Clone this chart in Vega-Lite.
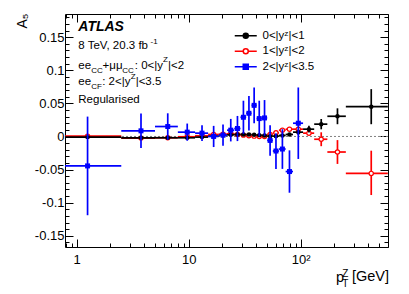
{
 "$schema": "https://vega.github.io/schema/vega-lite/v6.json",
 "width": 323,
 "height": 233,
 "autosize": {"type": "none"},
 "padding": {"left": 65, "top": 14, "right": 21, "bottom": 47},
 "background": "#ffffff",
 "config": {
  "view": {"stroke": "#000000", "strokeWidth": 1},
  "font": "Liberation Sans",
  "axis": {"grid": false, "domain": false, "tickColor": "#000000", "tickWidth": 1, "labelColor": "#000000", "labelFont": "Liberation Sans", "labelFontSize": 13, "labelOverlap": false, "titleColor": "#000000", "titleFont": "Liberation Sans", "titleFontWeight": "normal"},
  "legend": {"padding": 0, "labelFont": "Liberation Sans", "labelFontSize": 11.5, "labelColor": "#000000", "labelOffset": 11, "symbolSize": 25, "symbolStrokeWidth": 1.5, "rowPadding": 2.5, "titlePadding": 0}
 },
 "datasets": {
  "pts": [
   {"s": "0<|yᶻ|<1", "x": 1.25, "xlo": 0.001, "xhi": 2.5, "y": -0.001, "ylo": -0.003, "yhi": 0.001},
   {"s": "0<|yᶻ|<1", "x": 3.75, "xlo": 2.5, "xhi": 5, "y": -0.002, "ylo": -0.0035, "yhi": -0.0005},
   {"s": "0<|yᶻ|<1", "x": 6.5, "xlo": 5, "xhi": 8, "y": -0.002, "ylo": -0.0035, "yhi": -0.0005},
   {"s": "0<|yᶻ|<1", "x": 9.7, "xlo": 8, "xhi": 11.4, "y": -0.002, "ylo": -0.0035, "yhi": -0.0005},
   {"s": "0<|yᶻ|<1", "x": 13.15, "xlo": 11.4, "xhi": 14.9, "y": -0.001, "ylo": -0.0025, "yhi": 0.0005},
   {"s": "0<|yᶻ|<1", "x": 16.7, "xlo": 14.9, "xhi": 18.5, "y": 0.0005, "ylo": -0.001, "yhi": 0.002},
   {"s": "0<|yᶻ|<1", "x": 20.25, "xlo": 18.5, "xhi": 22, "y": 0.0015, "ylo": 0, "yhi": 0.003},
   {"s": "0<|yᶻ|<1", "x": 23.75, "xlo": 22, "xhi": 25.5, "y": 0.0025, "ylo": 0.001, "yhi": 0.004},
   {"s": "0<|yᶻ|<1", "x": 27.25, "xlo": 25.5, "xhi": 29, "y": 0.003, "ylo": 0.0015, "yhi": 0.0045},
   {"s": "0<|yᶻ|<1", "x": 30.8, "xlo": 29, "xhi": 32.6, "y": 0.003, "ylo": 0.0015, "yhi": 0.0045},
   {"s": "0<|yᶻ|<1", "x": 34.5, "xlo": 32.6, "xhi": 36.4, "y": 0.003, "ylo": 0.0015, "yhi": 0.0045},
   {"s": "0<|yᶻ|<1", "x": 38.4, "xlo": 36.4, "xhi": 40.4, "y": 0.0025, "ylo": 0.001, "yhi": 0.004},
   {"s": "0<|yᶻ|<1", "x": 42.65, "xlo": 40.4, "xhi": 44.9, "y": 0.002, "ylo": 0.0005, "yhi": 0.0035},
   {"s": "0<|yᶻ|<1", "x": 47.55, "xlo": 44.9, "xhi": 50.2, "y": 0.0015, "ylo": 0, "yhi": 0.003},
   {"s": "0<|yᶻ|<1", "x": 53.3, "xlo": 50.2, "xhi": 56.4, "y": 0.0005, "ylo": -0.001, "yhi": 0.002},
   {"s": "0<|yᶻ|<1", "x": 60.15, "xlo": 56.4, "xhi": 63.9, "y": 0.0005, "ylo": -0.0015, "yhi": 0.0025},
   {"s": "0<|yᶻ|<1", "x": 68.65, "xlo": 63.9, "xhi": 73.4, "y": 0.0015, "ylo": -0.0005, "yhi": 0.0035},
   {"s": "0<|yᶻ|<1", "x": 79.4, "xlo": 73.4, "xhi": 85.4, "y": 0.003, "ylo": 0.001, "yhi": 0.005},
   {"s": "0<|yᶻ|<1", "x": 95.2, "xlo": 85.4, "xhi": 105, "y": 0.0065, "ylo": 0.0025, "yhi": 0.0105},
   {"s": "0<|yᶻ|<1", "x": 118.5, "xlo": 105, "xhi": 132, "y": 0.011, "ylo": 0.006, "yhi": 0.016},
   {"s": "0<|yᶻ|<1", "x": 152.5, "xlo": 132, "xhi": 173, "y": 0.0186, "ylo": 0.0108, "yhi": 0.0264},
   {"s": "0<|yᶻ|<1", "x": 213, "xlo": 173, "xhi": 253, "y": 0.0305, "ylo": 0.0185, "yhi": 0.0425},
   {"s": "0<|yᶻ|<1", "x": 426.5, "xlo": 253, "xhi": 600, "y": 0.045, "ylo": 0.0185, "yhi": 0.0715},
   {"s": "1<|yᶻ|<2", "x": 1.25, "xlo": 0.001, "xhi": 2.5, "y": 0.0005, "ylo": -0.0015, "yhi": 0.0025},
   {"s": "1<|yᶻ|<2", "x": 3.75, "xlo": 2.5, "xhi": 5, "y": -0.0025, "ylo": -0.004, "yhi": -0.001},
   {"s": "1<|yᶻ|<2", "x": 6.5, "xlo": 5, "xhi": 8, "y": -0.002, "ylo": -0.0035, "yhi": -0.0005},
   {"s": "1<|yᶻ|<2", "x": 9.7, "xlo": 8, "xhi": 11.4, "y": -0.0005, "ylo": -0.002, "yhi": 0.001},
   {"s": "1<|yᶻ|<2", "x": 13.15, "xlo": 11.4, "xhi": 14.9, "y": 0.001, "ylo": -0.0005, "yhi": 0.0025},
   {"s": "1<|yᶻ|<2", "x": 16.7, "xlo": 14.9, "xhi": 18.5, "y": 0.003, "ylo": 0.0015, "yhi": 0.0045},
   {"s": "1<|yᶻ|<2", "x": 20.25, "xlo": 18.5, "xhi": 22, "y": 0.0035, "ylo": 0.002, "yhi": 0.005},
   {"s": "1<|yᶻ|<2", "x": 23.75, "xlo": 22, "xhi": 25.5, "y": 0.004, "ylo": 0.0025, "yhi": 0.0055},
   {"s": "1<|yᶻ|<2", "x": 27.25, "xlo": 25.5, "xhi": 29, "y": 0.003, "ylo": 0.0015, "yhi": 0.0045},
   {"s": "1<|yᶻ|<2", "x": 30.8, "xlo": 29, "xhi": 32.6, "y": 0.002, "ylo": 0.0005, "yhi": 0.0035},
   {"s": "1<|yᶻ|<2", "x": 34.5, "xlo": 32.6, "xhi": 36.4, "y": 0.001, "ylo": -0.0005, "yhi": 0.0025},
   {"s": "1<|yᶻ|<2", "x": 38.4, "xlo": 36.4, "xhi": 40.4, "y": 0.0005, "ylo": -0.001, "yhi": 0.002},
   {"s": "1<|yᶻ|<2", "x": 42.65, "xlo": 40.4, "xhi": 44.9, "y": 0.0, "ylo": -0.0015, "yhi": 0.0015},
   {"s": "1<|yᶻ|<2", "x": 47.55, "xlo": 44.9, "xhi": 50.2, "y": 0.0, "ylo": -0.0015, "yhi": 0.0015},
   {"s": "1<|yᶻ|<2", "x": 53.3, "xlo": 50.2, "xhi": 56.4, "y": 0.003, "ylo": 0.001, "yhi": 0.005},
   {"s": "1<|yᶻ|<2", "x": 60.15, "xlo": 56.4, "xhi": 63.9, "y": 0.0055, "ylo": 0.0035, "yhi": 0.0075},
   {"s": "1<|yᶻ|<2", "x": 68.65, "xlo": 63.9, "xhi": 73.4, "y": 0.0095, "ylo": 0.007, "yhi": 0.012},
   {"s": "1<|yᶻ|<2", "x": 79.4, "xlo": 73.4, "xhi": 85.4, "y": 0.011, "ylo": 0.0085, "yhi": 0.0135},
   {"s": "1<|yᶻ|<2", "x": 95.2, "xlo": 85.4, "xhi": 105, "y": 0.011, "ylo": 0.008, "yhi": 0.014},
   {"s": "1<|yᶻ|<2", "x": 118.5, "xlo": 105, "xhi": 132, "y": 0.005, "ylo": 0.001, "yhi": 0.009},
   {"s": "1<|yᶻ|<2", "x": 152.5, "xlo": 132, "xhi": 173, "y": -0.0042, "ylo": -0.0147, "yhi": 0.0063},
   {"s": "1<|yᶻ|<2", "x": 213, "xlo": 173, "xhi": 253, "y": -0.0235, "ylo": -0.0415, "yhi": -0.0055},
   {"s": "1<|yᶻ|<2", "x": 426.5, "xlo": 253, "xhi": 600, "y": -0.0558, "ylo": -0.0885, "yhi": -0.0215},
   {"s": "2<|yᶻ|<3.5", "x": 1.25, "xlo": 0.001, "xhi": 2.5, "y": -0.0445, "ylo": -0.119, "yhi": 0.03},
   {"s": "2<|yᶻ|<3.5", "x": 3.75, "xlo": 2.5, "xhi": 5, "y": 0.0085, "ylo": -0.0175, "yhi": 0.0345},
   {"s": "2<|yᶻ|<3.5", "x": 6.5, "xlo": 5, "xhi": 8, "y": 0.015, "ylo": -0.005, "yhi": 0.035},
   {"s": "2<|yᶻ|<3.5", "x": 9.7, "xlo": 8, "xhi": 11.4, "y": 0.0065, "ylo": -0.0065, "yhi": 0.0195},
   {"s": "2<|yᶻ|<3.5", "x": 13.15, "xlo": 11.4, "xhi": 14.9, "y": 0.005, "ylo": -0.007, "yhi": 0.017},
   {"s": "2<|yᶻ|<3.5", "x": 16.7, "xlo": 14.9, "xhi": 18.5, "y": 0.0, "ylo": -0.016, "yhi": 0.016},
   {"s": "2<|yᶻ|<3.5", "x": 20.25, "xlo": 18.5, "xhi": 22, "y": 0.002, "ylo": -0.014, "yhi": 0.018},
   {"s": "2<|yᶻ|<3.5", "x": 23.75, "xlo": 22, "xhi": 25.5, "y": 0.0095, "ylo": -0.0075, "yhi": 0.0265},
   {"s": "2<|yᶻ|<3.5", "x": 27.25, "xlo": 25.5, "xhi": 29, "y": 0.012, "ylo": -0.007, "yhi": 0.031},
   {"s": "2<|yᶻ|<3.5", "x": 30.8, "xlo": 29, "xhi": 32.6, "y": 0.029, "ylo": 0.004, "yhi": 0.054},
   {"s": "2<|yᶻ|<3.5", "x": 34.5, "xlo": 32.6, "xhi": 36.4, "y": 0.035, "ylo": 0.009, "yhi": 0.061},
   {"s": "2<|yᶻ|<3.5", "x": 38.4, "xlo": 36.4, "xhi": 40.4, "y": 0.047, "ylo": 0.02, "yhi": 0.074},
   {"s": "2<|yᶻ|<3.5", "x": 42.65, "xlo": 40.4, "xhi": 44.9, "y": 0.027, "ylo": 0.0, "yhi": 0.054},
   {"s": "2<|yᶻ|<3.5", "x": 47.55, "xlo": 44.9, "xhi": 50.2, "y": 0.028, "ylo": 0.001, "yhi": 0.055},
   {"s": "2<|yᶻ|<3.5", "x": 53.3, "xlo": 50.2, "xhi": 56.4, "y": -0.006, "ylo": -0.029, "yhi": 0.017},
   {"s": "2<|yᶻ|<3.5", "x": 60.15, "xlo": 56.4, "xhi": 63.9, "y": -0.022, "ylo": -0.049, "yhi": 0.005},
   {"s": "2<|yᶻ|<3.5", "x": 68.65, "xlo": 63.9, "xhi": 73.4, "y": -0.019, "ylo": -0.049, "yhi": 0.011},
   {"s": "2<|yᶻ|<3.5", "x": 79.4, "xlo": 73.4, "xhi": 85.4, "y": -0.053, "ylo": -0.085, "yhi": -0.021},
   {"s": "2<|yᶻ|<3.5", "x": 95.2, "xlo": 85.4, "xhi": 105, "y": 0.02, "ylo": -0.034, "yhi": 0.074}
  ],
  "ann": [
   {"t": "ATLAS", "x": 1.0335, "y": 0.1649, "k": "atlas"},
   {"t": "8 TeV, 20.3 fb", "x": 1.0335, "y": 0.1371, "k": "main"},
   {"t": "-1", "x": 4.56, "y": 0.1434, "k": "small"},
   {"t": "ee", "x": 1.0335, "y": 0.1069, "k": "main"},
   {"t": "CC", "x": 1.345, "y": 0.0993, "k": "small"},
   {"t": "+μμ", "x": 1.703, "y": 0.1069, "k": "main"},
   {"t": "CC", "x": 2.55, "y": 0.0993, "k": "small"},
   {"t": ": 0<|y", "x": 3.3, "y": 0.1069, "k": "main"},
   {"t": "Z", "x": 5.9, "y": 0.1148, "k": "small"},
   {"t": "|<2", "x": 6.55, "y": 0.1069, "k": "main"},
   {"t": "ee", "x": 1.0335, "y": 0.0827, "k": "main"},
   {"t": "CF", "x": 1.345, "y": 0.0747, "k": "small"},
   {"t": ": 2<|y", "x": 1.69, "y": 0.0827, "k": "main"},
   {"t": "Z", "x": 3.03, "y": 0.0898, "k": "small"},
   {"t": "|<3.5", "x": 3.36, "y": 0.0827, "k": "main"},
   {"t": "Regularised", "x": 1.0335, "y": 0.0551, "k": "main"},
   {"t": "p", "x": 207, "y": -0.2143, "k": "xt"},
   {"t": "Z", "x": 234.5, "y": -0.2075, "k": "xs"},
   {"t": "T", "x": 234.5, "y": -0.2235, "k": "xs"},
   {"t": "[GeV]", "x": 287, "y": -0.2119, "k": "xt"}
  ]
 },
 "layer": [
  {
   "data": {"values": [{"z": 0}]},
   "mark": {"type": "rule", "strokeDash": [2, 2], "color": "#808080", "strokeWidth": 1},
   "encoding": {
    "y": {"field": "z", "type": "quantitative", "scale": {"domain": [-0.167, 0.185], "nice": false, "zero": false},
     "axis": {"orient": "right", "title": null, "labels": false,
      "values": [-0.16,-0.15,-0.14,-0.13,-0.12,-0.11,-0.1,-0.09,-0.08,-0.07,-0.06,-0.05,-0.04,-0.03,-0.02,-0.01,0,0.01,0.02,0.03,0.04,0.05,0.06,0.07,0.08,0.09,0.1,0.11,0.12,0.13,0.14,0.15,0.16,0.17,0.18],
      "tickSize": {"condition": {"test": "abs(datum.value*20 - round(datum.value*20)) < 1e-6", "value": -8}, "value": -4}}}
   }
  },
  {
   "data": {"name": "pts"},
   "transform": [{"filter": {"field": "s", "equal": "1<|yᶻ|<2"}}],
   "mark": {"type": "rule", "strokeWidth": 1.7, "color": "#ff0000", "clip": true},
   "encoding": {
    "x": {"field": "xlo", "type": "quantitative", "scale": {"type": "log", "domain": [0.786, 602], "nice": false},
     "axis": {"orient": "bottom", "title": null,
      "values": [0.8,0.9,1,2,3,4,5,6,7,8,9,10,20,30,40,50,60,70,80,90,100,200,300,400,500,600],
      "tickSize": {"condition": {"test": "abs(log(datum.value)/LN10 - round(log(datum.value)/LN10)) < 1e-6", "value": -8}, "value": -4},
      "labelPadding": 14,
      "labelExpr": "datum.value == 1 ? '1' : datum.value == 10 ? '10' : datum.value == 100 ? '10²' : ''"}},
    "x2": {"field": "xhi"},
    "y": {"field": "y", "type": "quantitative",
     "axis": {"orient": "left", "title": "A₅", "titleFontSize": 14, "titleAngle": 270, "titleAlign": "right", "titleBaseline": "middle", "titleX": -43, "titleY": -1,
      "values": [-0.16,-0.15,-0.14,-0.13,-0.12,-0.11,-0.1,-0.09,-0.08,-0.07,-0.06,-0.05,-0.04,-0.03,-0.02,-0.01,0,0.01,0.02,0.03,0.04,0.05,0.06,0.07,0.08,0.09,0.1,0.11,0.12,0.13,0.14,0.15,0.16,0.17,0.18],
      "tickSize": {"condition": {"test": "abs(datum.value*20 - round(datum.value*20)) < 1e-6", "value": -8}, "value": -4},
      "labelPadding": 9,
      "labelExpr": "abs(datum.value*20 - round(datum.value*20)) < 1e-6 ? replace(format(datum.value, '~g'), '−', '-') : ''"}}
   }
  },
  {
   "data": {"name": "pts"},
   "transform": [{"filter": {"field": "s", "equal": "1<|yᶻ|<2"}}],
   "mark": {"type": "rule", "strokeWidth": 1.7, "color": "#ff0000", "clip": true},
   "encoding": {
    "x": {"field": "x", "type": "quantitative",
     "axis": {"orient": "top", "title": null, "labels": false,
      "values": [0.8,0.9,1,2,3,4,5,6,7,8,9,10,20,30,40,50,60,70,80,90,100,200,300,400,500,600],
      "tickSize": {"condition": {"test": "abs(log(datum.value)/LN10 - round(log(datum.value)/LN10)) < 1e-6", "value": -8}, "value": -4}}},
    "y": {"field": "ylo", "type": "quantitative", "axis": null},
    "y2": {"field": "yhi"}
   }
  },
  {
   "data": {"name": "pts"},
   "transform": [{"filter": {"field": "s", "equal": "1<|yᶻ|<2"}}],
   "mark": {"type": "point", "shape": "circle", "filled": true, "fill": "#ffffff", "stroke": "#ff0000", "strokeWidth": 1.2, "size": 18, "opacity": 1, "clip": true},
   "encoding": {"x": {"field": "x", "type": "quantitative", "axis": null}, "y": {"field": "y", "type": "quantitative", "axis": null}}
  },
  {
   "data": {"name": "pts"},
   "transform": [{"filter": {"field": "s", "equal": "0<|yᶻ|<1"}}],
   "mark": {"type": "rule", "strokeWidth": 1.7, "color": "#000000", "clip": true},
   "encoding": {"x": {"field": "xlo", "type": "quantitative", "axis": null}, "x2": {"field": "xhi"}, "y": {"field": "y", "type": "quantitative", "axis": null}}
  },
  {
   "data": {"name": "pts"},
   "transform": [{"filter": {"field": "s", "equal": "0<|yᶻ|<1"}}],
   "mark": {"type": "rule", "strokeWidth": 1.7, "color": "#000000", "clip": true},
   "encoding": {"x": {"field": "x", "type": "quantitative", "axis": null}, "y": {"field": "ylo", "type": "quantitative", "axis": null}, "y2": {"field": "yhi"}}
  },
  {
   "data": {"name": "pts"},
   "transform": [{"filter": {"field": "s", "equal": "0<|yᶻ|<1"}}],
   "mark": {"type": "point", "shape": "circle", "filled": true, "color": "#000000", "size": 20, "opacity": 1, "clip": true},
   "encoding": {"x": {"field": "x", "type": "quantitative", "axis": null}, "y": {"field": "y", "type": "quantitative", "axis": null}}
  },
  {
   "data": {"name": "pts"},
   "transform": [{"filter": {"field": "s", "equal": "2<|yᶻ|<3.5"}}],
   "mark": {"type": "rule", "strokeWidth": 1.7, "color": "#0000ff", "clip": true},
   "encoding": {"x": {"field": "xlo", "type": "quantitative", "axis": null}, "x2": {"field": "xhi"}, "y": {"field": "y", "type": "quantitative", "axis": null}}
  },
  {
   "data": {"name": "pts"},
   "transform": [{"filter": {"field": "s", "equal": "2<|yᶻ|<3.5"}}],
   "mark": {"type": "rule", "strokeWidth": 1.7, "color": "#0000ff", "clip": true},
   "encoding": {"x": {"field": "x", "type": "quantitative", "axis": null}, "y": {"field": "ylo", "type": "quantitative", "axis": null}, "y2": {"field": "yhi"}}
  },
  {
   "data": {"name": "pts"},
   "transform": [{"filter": {"field": "s", "equal": "2<|yᶻ|<3.5"}}],
   "mark": {"type": "point", "shape": "square", "filled": true, "color": "#0000ff", "size": 25, "opacity": 1, "clip": true},
   "encoding": {"x": {"field": "x", "type": "quantitative", "axis": null}, "y": {"field": "y", "type": "quantitative", "axis": null}}
  },
  {
   "data": {"values": [{"s": "0<|yᶻ|<1"}, {"s": "1<|yᶻ|<2"}, {"s": "2<|yᶻ|<3.5"}]},
   "mark": {"type": "point", "filled": true, "size": 25, "strokeWidth": 1.5, "opacity": 1, "clip": true},
   "encoding": {
    "x": {"datum": 100000, "type": "quantitative", "axis": null},
    "y": {"datum": 0, "type": "quantitative", "axis": null},
    "shape": {"field": "s", "type": "nominal",
     "scale": {"domain": ["0<|yᶻ|<1", "1<|yᶻ|<2", "2<|yᶻ|<3.5"], "range": ["M-4.4,0L-1,0M1,0L4.4,0M1,0A1,1,0,1,1,-1,0A1,1,0,1,1,1,0Z", "M-4.4,0L-1,0M1,0L4.4,0M1,0A1,1,0,1,1,-1,0A1,1,0,1,1,1,0Z", "M-4.4,0L-1,0M1,0L4.4,0M-1,-1L1,-1L1,1L-1,1Z"]},
     "legend": {"orient": "none", "legendX": 175, "legendY": 16, "title": null}},
    "fill": {"field": "s", "type": "nominal",
     "scale": {"domain": ["0<|yᶻ|<1", "1<|yᶻ|<2", "2<|yᶻ|<3.5"], "range": ["#000000", "#ffffff", "#0000ff"]},
     "legend": {"orient": "none", "legendX": 175, "legendY": 16, "title": null}},
    "stroke": {"field": "s", "type": "nominal",
     "scale": {"domain": ["0<|yᶻ|<1", "1<|yᶻ|<2", "2<|yᶻ|<3.5"], "range": ["#000000", "#ff0000", "#0000ff"]},
     "legend": {"orient": "none", "legendX": 175, "legendY": 16, "title": null}}
   }
  },
  {
   "data": {"name": "ann"},
   "transform": [{"filter": {"field": "k", "equal": "atlas"}}],
   "mark": {"type": "text", "align": "left", "baseline": "middle", "font": "Liberation Sans", "fontSize": 14, "fontWeight": "bold", "fontStyle": "italic", "color": "#000000"},
   "encoding": {"x": {"field": "x", "type": "quantitative", "axis": null}, "y": {"field": "y", "type": "quantitative", "axis": null}, "text": {"field": "t"}}
  },
  {
   "data": {"name": "ann"},
   "transform": [{"filter": {"field": "k", "equal": "main"}}],
   "mark": {"type": "text", "align": "left", "baseline": "middle", "font": "Liberation Sans", "fontSize": 11.5, "color": "#000000"},
   "encoding": {"x": {"field": "x", "type": "quantitative", "axis": null}, "y": {"field": "y", "type": "quantitative", "axis": null}, "text": {"field": "t"}}
  },
  {
   "data": {"name": "ann"},
   "transform": [{"filter": {"field": "k", "equal": "small"}}],
   "mark": {"type": "text", "align": "left", "baseline": "middle", "font": "Liberation Sans", "fontSize": 8, "color": "#000000"},
   "encoding": {"x": {"field": "x", "type": "quantitative", "axis": null}, "y": {"field": "y", "type": "quantitative", "axis": null}, "text": {"field": "t"}}
  },
  {
   "data": {"name": "ann"},
   "transform": [{"filter": {"field": "k", "equal": "xt"}}],
   "mark": {"type": "text", "align": "left", "baseline": "middle", "font": "Liberation Sans", "fontSize": 14.5, "color": "#000000"},
   "encoding": {"x": {"field": "x", "type": "quantitative", "axis": null}, "y": {"field": "y", "type": "quantitative", "axis": null}, "text": {"field": "t"}}
  },
  {
   "data": {"name": "ann"},
   "transform": [{"filter": {"field": "k", "equal": "xs"}}],
   "mark": {"type": "text", "align": "left", "baseline": "middle", "font": "Liberation Sans", "fontSize": 10, "color": "#000000"},
   "encoding": {"x": {"field": "x", "type": "quantitative", "axis": null}, "y": {"field": "y", "type": "quantitative", "axis": null}, "text": {"field": "t"}}
  }
 ],
 "resolve": {"axis": {"x": "independent", "y": "independent"}}
}
